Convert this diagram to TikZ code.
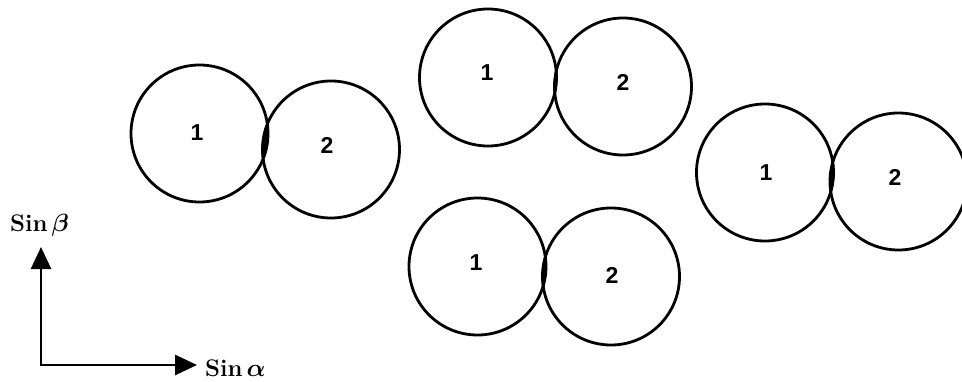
\documentclass[tikz,border=0pt]{standalone}
\usepackage{amsmath}
\usepackage{fontspec}
\usepackage{bm}
\usetikzlibrary{arrows.meta}
\newfontfamily\digitfont{Liberation Sans}
\begin{document}
\begin{tikzpicture}[x=1pt,y=-1pt,
  ring/.style={circle,draw,line width=2.8pt,minimum size=137pt,inner sep=0pt},
  num/.style={font=\digitfont\bfseries\fontsize{23pt}{27pt}\selectfont},
  axislabel/.style={font=\bfseries\fontsize{24pt}{28pt}\selectfont,anchor=base west,inner sep=0pt},
  axis/.style={line width=2.8pt,-{Triangle[length=22pt,width=20pt]}}]
\useasboundingbox (0,0) rectangle (962,381);
\fill[white] (0,0) rectangle (962,381);
% circles
\foreach \n/\x/\y in {A1/199.5/133.5, A2/331/149.5, B1/488/77.5, B2/623/86.5,
                      C1/765/172.5, C2/898.5/181.5, D1/477.5/266.5, D2/611/276.5}
  \node[ring] (\n) at (\x,\y) {};
% lens-shaped contact regions
\foreach \a/\b in {A1/A2, B1/B2, C1/C2, D1/D2}{
  \begin{scope}
    \clip (\a.center) circle[radius=69.5pt];
    \fill (\b.center) circle[radius=69.5pt];
  \end{scope}}
% labels
\node[num] (lA1) at (197,133) {1};
\node[num] (lA2) at (327,145) {2};
\node[num] (lB1) at (487,73) {1};
\node[num] (lB2) at (623,82) {2};
\node[num] (lC1) at (766,173) {1};
\node[num] (lC2) at (895,177) {2};
\node[num] (lD1) at (476,263) {1};
\node[num] (lD2) at (612,275) {2};
% axes
\coordinate (O) at (41,365);
\coordinate (Ytip) at (41,247);
\coordinate (Xtip) at (197,365);
\draw[axis] (O) -- (Ytip);
\draw[axis] ([xshift=-1.4pt]O) -- (Xtip);
\node[axislabel] (sb) at (10,231) {Sin\,$\bm{\beta}$};
\node[axislabel] (sa) at (205,376) {Sin\,$\bm{\alpha}$};
\end{tikzpicture}
\end{document}
